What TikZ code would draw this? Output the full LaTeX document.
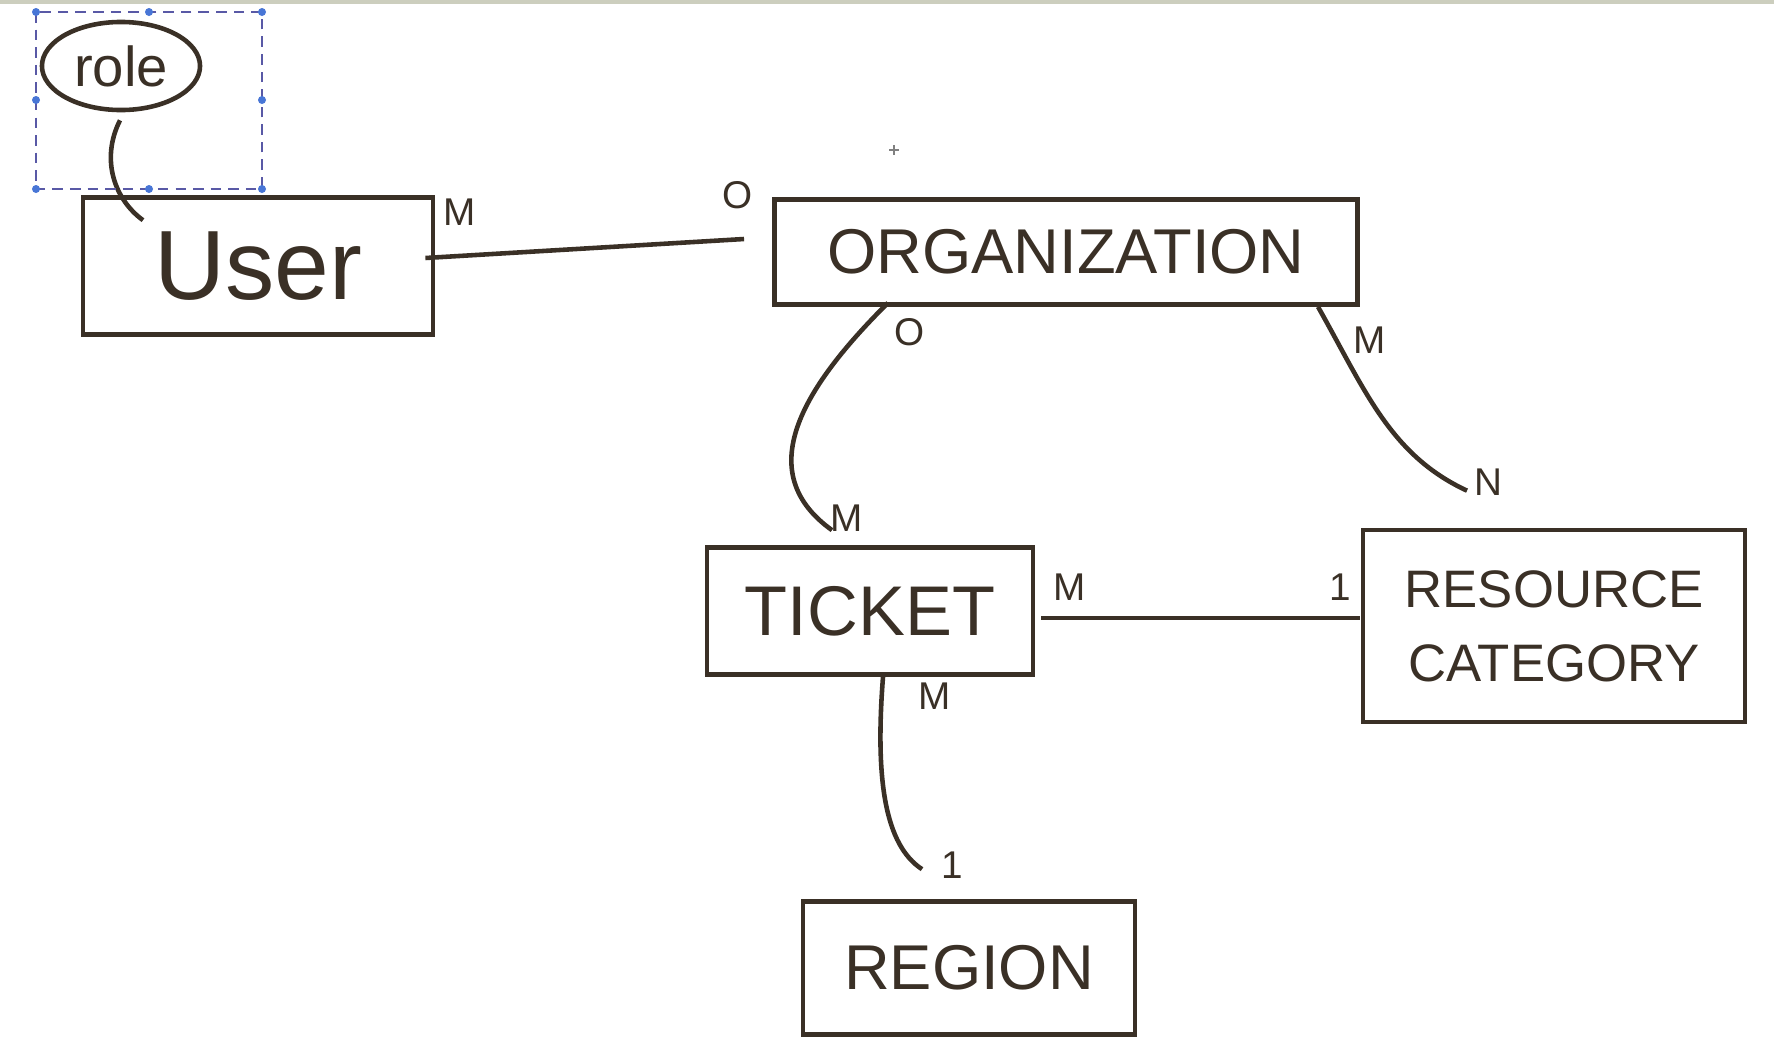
\documentclass[tikz,border=0pt]{standalone}
\usepackage{fontspec}
\setmainfont{Liberation Sans}
\usetikzlibrary{calc,shapes.geometric}
\definecolor{ink}{RGB}{58,48,38}
\definecolor{handle}{RGB}{72,118,214}
\definecolor{topband}{RGB}{204,206,190}

\begin{document}
\begin{tikzpicture}
[x=0.01cm,y=-0.01cm,
  entitydecorate/.style={shape=rectangle,draw=ink,line width=1.3pt,text=ink,inner sep=0pt,align=center},%
  attrdecorate/.style={shape=ellipse,draw=ink,line width=1.3pt,text=ink,inner sep=0pt},%
  carddecorate/.style={text=ink,inner sep=0pt,font=\fontsize{11}{11}\selectfont},%
  linedecorate/.style={-,draw=ink,line width=1.3pt}]
\useasboundingbox (0,0) rectangle (1774,1054);
\fill[white] (0,0) rectangle (1774,1054);
\fill[topband] (0,0) rectangle (1774,4);
%% nodes or entities
\foreach \nodename/\x/\y/\w/\h/\fsize/\entitytext in {user/258/266/3.50/1.37/28/{User},
  org/1066/252/5.83/1.05/18/{ORGANIZATION}, ticket/870/611/3.26/1.27/20/{TICKET},
  resource/1554/626/3.82/1.92/15/{RESOURCE\\[6pt]CATEGORY}, region/969/968/3.32/1.33/18/{REGION}} {
  \node (\nodename) at (\x,\y) [entitydecorate,minimum width=\w cm,minimum height=\h cm,
    font=\fontsize{\fsize}{\fsize}\selectfont] {\entitytext};
}
\node (role) at (121,66) [attrdecorate,minimum width=1.58cm,minimum height=0.88cm,
  font=\fontsize{16}{16}\selectfont] {role};
%% cardinalities
\foreach \cardname/\x/\y/\card in {userm/460/212/M, orgo/738/195/O, orgbo/910/332/O,
  ticketm/847/518/M, orgm/1370/340/M, resourcen/1488/482/N, ticketrm/1070/587/M,
  resourceone/1340/587/1, ticketbm/935/696/M, regionone/952/865/1} {
  \node (\cardname) at (\x,\y) [carddecorate] {\card};
}
%% edges or lines
\draw[linedecorate] ($(role.south)+(-1,8)$) .. controls (100,160) and (115,200) .. ($(user.north)+(-115,25)$);
\draw[linedecorate] ($(user.east)+(-10,-8)$) -- ($(org.west)+(-28,-13)$);
\draw[linedecorate] ($(org.south)+(-178,-4)$) .. controls (795,395) and (755,475) .. ($(ticket.north)+(-38,-15)$);
\draw[linedecorate] ($(org.south)+(252,0)$) .. controls (1365,390) and (1390,455) .. ($(resource.north)+(-87,-37)$);
\draw[linedecorate] ($(ticket.east)+(6,7)$) -- ($(resource.west)+(-1,-8)$);
\draw[linedecorate] ($(ticket.south)+(13,0)$) .. controls (875,780) and (885,845) .. ($(region.north)+(-47,-30)$);
%% selection frame
\draw[densely dashed,gray!70!blue,line width=0.4pt] (36,12) rectangle (262,189);
\foreach \hx/\hy in {36/12,149/12,262/12,36/100,262/100,36/189,149/189,262/189}
  \fill[handle] (\hx,\hy) circle (4);
\draw[gray,line width=0.4pt] (889,150) -- (899,150) (894,145) -- (894,155);
\end{tikzpicture}
\end{document}
